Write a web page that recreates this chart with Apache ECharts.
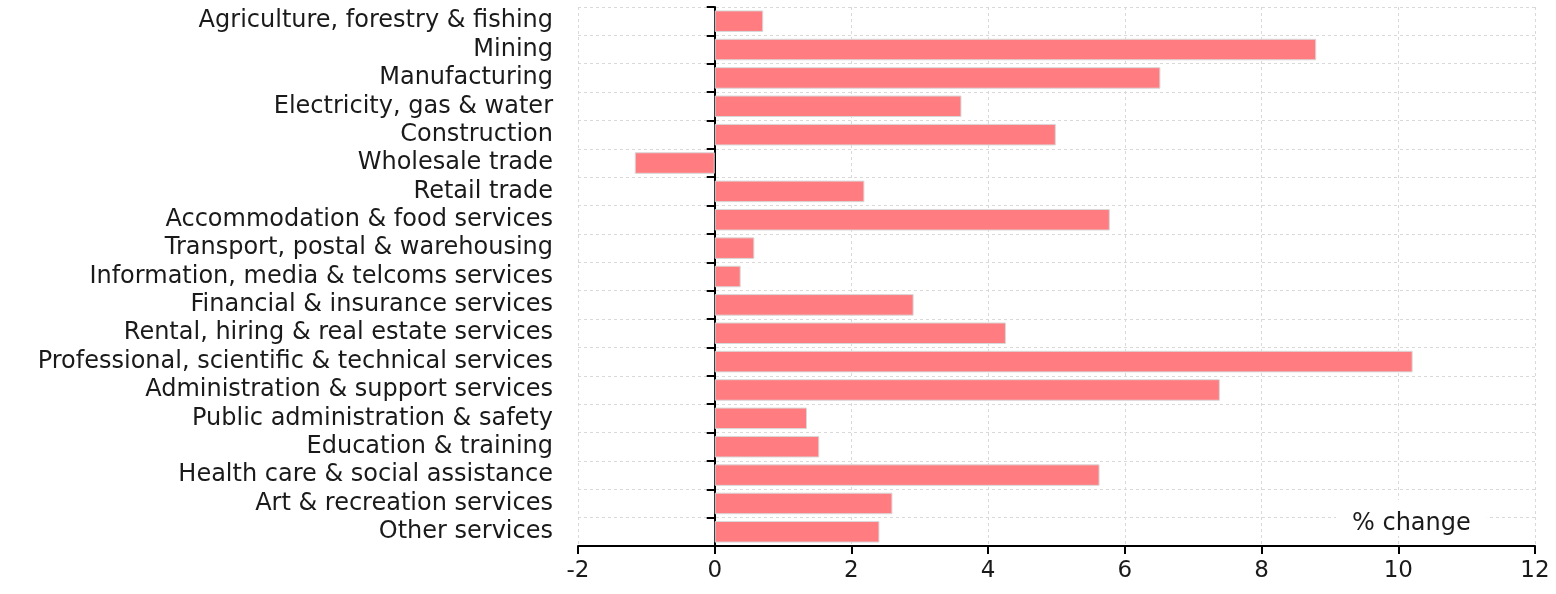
<!DOCTYPE html>
<html>
<head>
<meta charset="utf-8">
<script src="https://cdn.jsdelivr.net/npm/echarts@6/dist/echarts.min.js"></script>
<style>
html,body{margin:0;padding:0;background:#fff;}
#chart{width:1556px;height:594px;}
</style>
</head>
<body>
<div id="chart"></div>
<script>
const categories = [
  "Agriculture, forestry & fishing",
  "Mining",
  "Manufacturing",
  "Electricity, gas & water",
  "Construction",
  "Wholesale trade",
  "Retail trade",
  "Accommodation & food services",
  "Transport, postal & warehousing",
  "Information, media & telcoms services",
  "Financial & insurance services",
  "Rental, hiring & real estate services",
  "Professional, scientific & technical services",
  "Administration & support services",
  "Public administration & safety",
  "Education & training",
  "Health care & social assistance",
  "Art & recreation services",
  "Other services"
];
const changeValues = [0.71, 8.80, 6.52, 3.61, 4.99, -1.17, 2.19, 5.78, 0.58, 0.38, 2.91, 4.26, 10.21, 7.39, 1.35, 1.53, 5.63, 2.60, 2.41];
const xTicks = { min: -2, max: 12, interval: 2 };
const axisTitle = "% change";

const FONT = "DejaVu Sans";
const chart = echarts.init(document.getElementById('chart'));
chart.setOption({
  animation: false,
  grid: { left: 578, right: 21, top: 7, bottom: 48, outerBoundsMode: 'none', containLabel: false },
  xAxis: {
    type: 'value',
    min: xTicks.min, max: xTicks.max, interval: xTicks.interval,
    axisLine: { show: true, onZero: false, lineStyle: { color: '#000', width: 2 } },
    axisTick: { show: true, length: 8, lineStyle: { color: '#000', width: 2 } },
    axisLabel: { color: '#1a1a1a', fontSize: 23, fontFamily: FONT, margin: 14 },
    splitLine: { show: true, lineStyle: { color: '#d9d9d9', type: [3, 3], width: 1 } }
  },
  yAxis: {
    type: 'category',
    data: categories,
    inverse: true,
    axisLine: { show: true, onZero: true, lineStyle: { color: '#000', width: 2 } },
    axisTick: { show: true, length: 8, interval: 0, lineStyle: { color: '#000', width: 2 } },
    axisLabel: { color: '#1a1a1a', fontSize: 24, fontFamily: FONT, margin: 25, interval: 0 },
    splitLine: { show: true, interval: 0, lineStyle: { color: '#d9d9d9', type: [3, 3], width: 1 } }
  },
  graphic: [{
    type: 'text', left: 1336, top: 500, z: 1,
    style: {
      text: axisTitle, fontSize: 24, fontFamily: FONT, fill: '#1a1a1a',
      backgroundColor: '#fff', padding: [12, 16, 0, 16]
    }
  }],
  series: [{
    type: 'bar',
    data: changeValues,
    barWidth: '76%',
    itemStyle: { color: '#FF7C80', borderColor: '#d9d9d9', borderWidth: 1 }
  }]
});
</script>
</body>
</html>
